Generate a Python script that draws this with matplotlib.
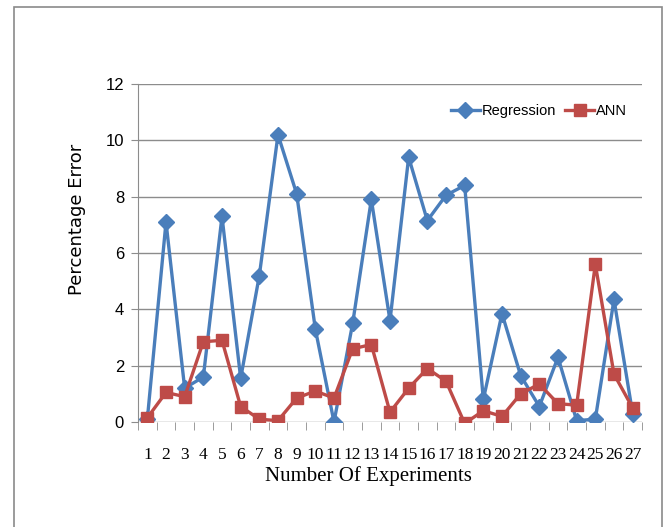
import numpy as np
import matplotlib.pyplot as plt
from matplotlib.patches import Rectangle
from matplotlib.ticker import FixedLocator

experiments = list(range(1, 28))
regression = [0.1, 7.1, 1.2, 1.6, 7.3, 1.55, 5.2, 10.2, 8.1, 3.3, 0.0, 3.5, 7.9, 3.6,
              9.4, 7.15, 8.05, 8.4, 0.8, 3.85, 1.65, 0.55, 2.3, 0.05, 0.1, 4.35, 0.3]
ann = [0.15, 1.05, 0.9, 2.85, 2.9, 0.55, 0.1, 0.05, 0.85, 1.1, 0.85, 2.6, 2.75, 0.35,
       1.2, 1.9, 1.45, -0.05, 0.4, 0.2, 1.0, 1.35, 0.65, 0.6, 5.6, 1.7, 0.5]

BLUE = "#4a7ebb"
RED = "#be4b48"
GRID = "#8c8c8c"
SANS = ["Liberation Sans", "DejaVu Sans"]
SERIF = ["Liberation Serif", "DejaVu Serif"]

fig = plt.figure(figsize=(6.67, 5.27), dpi=100)
ax = fig.add_axes([0.2069, 0.1992, 0.7556, 0.6414])

# outer frame of the chart area
fig.patches.append(Rectangle((14 / 667, -0.05), (662 - 14) / 667, 1.05 - 7 / 527,
                             transform=fig.transFigure, fill=False,
                             edgecolor="#8a8a8a", linewidth=1.2))

ax.plot(experiments, regression, color=BLUE, lw=2.4, marker="D", ms=8.5,
        label="Regression", zorder=3)
ax.plot(experiments, ann, color=RED, lw=2.4, marker="s", ms=9,
        label="ANN", zorder=4)

ax.set_xlim(0.5, 27.5)
ax.set_ylim(0, 12)
ax.set_yticks(np.arange(0, 13, 2))
ax.set_xticks(experiments)
ax.xaxis.set_minor_locator(FixedLocator(np.arange(0.5, 28, 1)))
ax.grid(axis="y", color=GRID, lw=1)
ax.set_axisbelow(True)

for s in ["top", "right", "bottom"]:
    ax.spines[s].set_visible(False)
ax.spines["left"].set_color(GRID)

ax.tick_params(axis="x", which="major", length=0, pad=18)
ax.tick_params(axis="x", which="minor", length=6, color=GRID, direction="out")
ax.tick_params(axis="y", length=5, color=GRID, pad=5)

for lbl in ax.get_xticklabels():
    lbl.set_fontfamily(SERIF)
    lbl.set_fontsize(12.5)
for lbl in ax.get_yticklabels():
    lbl.set_fontfamily(SANS)
    lbl.set_fontsize(12)

ax.set_xlabel("Number Of Experiments", family=SERIF, fontsize=15)
ax.xaxis.set_label_coords(0.458, -0.13)
ax.set_ylabel("Percentage Error", family="DejaVu Sans", fontsize=13)
ax.yaxis.set_label_coords(-0.103, 0.60)

leg = ax.legend(loc="center", bbox_to_anchor=(539 / 667, 1 - 111 / 527),
                bbox_transform=fig.transFigure, ncol=2, frameon=False,
                handlelength=2.0, columnspacing=0.6, handletextpad=0.15,
                prop={"family": SANS, "size": 10.5})

fig.savefig("out.png", dpi=100)
